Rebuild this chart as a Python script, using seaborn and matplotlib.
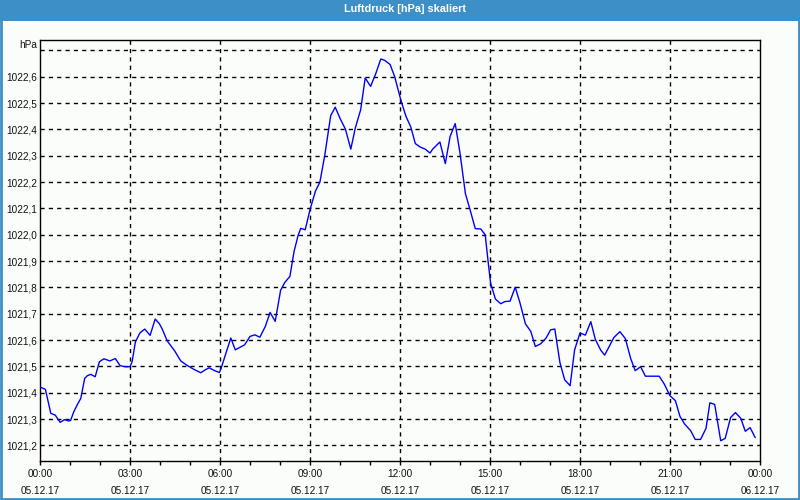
import matplotlib
matplotlib.use("Agg")
import matplotlib.pyplot as plt
import matplotlib.patches as mpatches
from matplotlib.ticker import FixedLocator, MultipleLocator, FuncFormatter
import seaborn as sns
import pandas as pd

# ---- data (hours since 05.12.17 00:00, pressure in hPa) ----
hours = [0.02, 0.18, 0.36, 0.51, 0.67, 0.82, 0.96, 1.02, 1.13, 1.24, 1.36, 1.49, 1.58, 1.69,
         1.84, 1.98, 2.13, 2.33, 2.51, 2.67, 2.84, 3.00, 3.07, 3.18, 3.33, 3.49, 3.67, 3.84,
         3.98, 4.07, 4.24, 4.49, 4.69, 4.89, 5.13, 5.36, 5.49, 5.64, 5.82, 5.98,
         6.04, 6.36, 6.51, 6.82, 7.00, 7.16, 7.33, 7.51, 7.67, 7.84, 8.02, 8.16, 8.33, 8.47,
         8.60, 8.69, 8.84, 9.00, 9.18, 9.33, 9.49, 9.69, 9.84, 10.02, 10.18, 10.36, 10.51,
         10.69, 10.84, 11.02, 11.20, 11.36, 11.49, 11.67, 11.82,
         12.04, 12.20, 12.36, 12.51, 12.67, 12.84, 13.00, 13.09, 13.33, 13.51, 13.67, 13.84,
         14.00, 14.18, 14.33, 14.51, 14.69, 14.84, 14.93, 15.02, 15.18, 15.36, 15.49, 15.67,
         15.84, 16.00, 16.18, 16.36, 16.51, 16.69, 16.87, 17.02, 17.16, 17.33, 17.49, 17.67,
         17.82, 18.00, 18.18, 18.36, 18.51, 18.69, 18.82, 18.98, 19.13, 19.33, 19.51, 19.69,
         19.84, 20.02, 20.18, 20.36, 20.64, 20.80, 21.00, 21.18, 21.33, 21.49, 21.69, 21.84,
         22.02, 22.20, 22.33, 22.49, 22.69, 22.84, 23.02, 23.18, 23.36, 23.51, 23.67, 23.84]
pressure = [1021.421, 1021.413, 1021.322, 1021.315, 1021.288, 1021.298, 1021.293, 1021.295,
            1021.329, 1021.354, 1021.379, 1021.455, 1021.465, 1021.470, 1021.461, 1021.518,
            1021.529, 1021.521, 1021.530, 1021.503, 1021.499, 1021.499, 1021.518, 1021.593,
            1021.627, 1021.642, 1021.618, 1021.680, 1021.662, 1021.643, 1021.597, 1021.559,
            1021.521, 1021.505, 1021.489, 1021.476, 1021.486, 1021.495, 1021.484, 1021.477,
            1021.494, 1021.608, 1021.563, 1021.582, 1021.614, 1021.620, 1021.611, 1021.652,
            1021.705, 1021.671, 1021.789, 1021.819, 1021.842, 1021.937, 1021.996, 1022.024,
            1022.019, 1022.095, 1022.165, 1022.200, 1022.300, 1022.452, 1022.484, 1022.437,
            1022.401, 1022.325, 1022.405, 1022.475, 1022.595, 1022.563, 1022.614, 1022.667,
            1022.662, 1022.646, 1022.601,
            1022.506, 1022.449, 1022.409, 1022.346, 1022.333, 1022.325, 1022.310, 1022.325,
            1022.352, 1022.270, 1022.373, 1022.422, 1022.310, 1022.156, 1022.097, 1022.023,
            1022.022, 1022.000, 1021.905, 1021.816, 1021.756, 1021.738, 1021.746, 1021.748,
            1021.801, 1021.741, 1021.662, 1021.633, 1021.576, 1021.586, 1021.608, 1021.639,
            1021.642, 1021.515, 1021.449, 1021.427, 1021.563, 1021.627, 1021.619, 1021.670,
            1021.603, 1021.562, 1021.543, 1021.577, 1021.610, 1021.632, 1021.606, 1021.530,
            1021.484, 1021.499, 1021.463, 1021.463, 1021.463, 1021.435, 1021.389, 1021.370,
            1021.311, 1021.281, 1021.256, 1021.223, 1021.223, 1021.265, 1021.362, 1021.356,
            1021.218, 1021.227, 1021.306, 1021.325, 1021.303, 1021.254, 1021.268, 1021.230]

x_tick_hours = [0, 3, 6, 9, 12, 15, 18, 21, 24]
x_tick_labels = ["00:00\n05.12.17", "03:00\n05.12.17", "06:00\n05.12.17", "09:00\n05.12.17",
                 "12:00\n05.12.17", "15:00\n05.12.17", "18:00\n05.12.17", "21:00\n05.12.17",
                 "00:00\n06.12.17"]
y_ticks = [1021.2, 1021.3, 1021.4, 1021.5, 1021.6, 1021.7, 1021.8, 1021.9,
           1022.0, 1022.1, 1022.2, 1022.3, 1022.4, 1022.5, 1022.6]
y_grid_extra = [1022.7]
title = "Luftdruck [hPa] skaliert"
unit = "hPa"

df = pd.DataFrame({"hour": hours, "hPa": pressure})

sns.set_style("white")
plt.rcParams["font.family"] = ["Liberation Sans", "DejaVu Sans"]

BG = "#fbfdfb"
BAR = "#3d8fc7"

fig = plt.figure(figsize=(8, 5), dpi=100, facecolor=BG)
ax = fig.add_axes([40 / 800, 1 - 460.5 / 500, 720 / 800, 420.2 / 500])
ax.set_facecolor(BG)

# grid
grid_kw = dict(color="black", lw=1.0, ls=(0, (3, 3)), zorder=1)
for yv in y_ticks + y_grid_extra:
    ax.axhline(yv, **grid_kw)
for xv in x_tick_hours[1:-1]:
    ax.axvline(xv, **grid_kw)

sns.lineplot(data=df, x="hour", y="hPa", ax=ax, color="#0000ff", lw=1.0, zorder=3)

ax.set_xlim(0, 24)
ax.set_ylim(1021.143, 1022.738)
ax.set_xlabel("")
ax.set_ylabel("")

ax.xaxis.set_major_locator(FixedLocator(x_tick_hours))
ax.xaxis.set_minor_locator(MultipleLocator(1))
ax.set_xticklabels(x_tick_labels, linespacing=1.85)
ax.yaxis.set_major_locator(FixedLocator(y_ticks))
ax.yaxis.set_major_formatter(FuncFormatter(lambda v, p: f"{v:.1f}".replace(".", ",")))

ax.tick_params(axis="x", which="both", direction="out", length=3, width=1,
               color="black", labelsize=7.2, pad=3, bottom=True)
ax.tick_params(axis="y", which="both", length=0, labelsize=7.2, pad=2, left=True)
for lab in ax.get_xticklabels() + ax.get_yticklabels():
    lab.set_color("#111111")

for s in ax.spines.values():
    s.set_visible(True)
    s.set_color("black")
    s.set_linewidth(1.0)

# title bar
fig.patches.append(mpatches.Rectangle((0, 1 - 21 / 500), 1, 21 / 500, transform=fig.transFigure,
                                      facecolor=BAR, edgecolor="none", zorder=0))
fig.patches.append(mpatches.Rectangle((0.001, 0.002), 0.998, 0.996, transform=fig.transFigure,
                                      facecolor="none", edgecolor=BAR, lw=2, zorder=5))
fig.text(405 / 800, 1 - 9.5 / 500, title, color="white", fontsize=7.8, fontweight="bold",
         ha="center", va="center")
fig.text(37 / 800, 1 - 45 / 500, unit, color="#111111", fontsize=7.2, ha="right", va="center")

fig.savefig("out.png", dpi=100, facecolor=BG)
